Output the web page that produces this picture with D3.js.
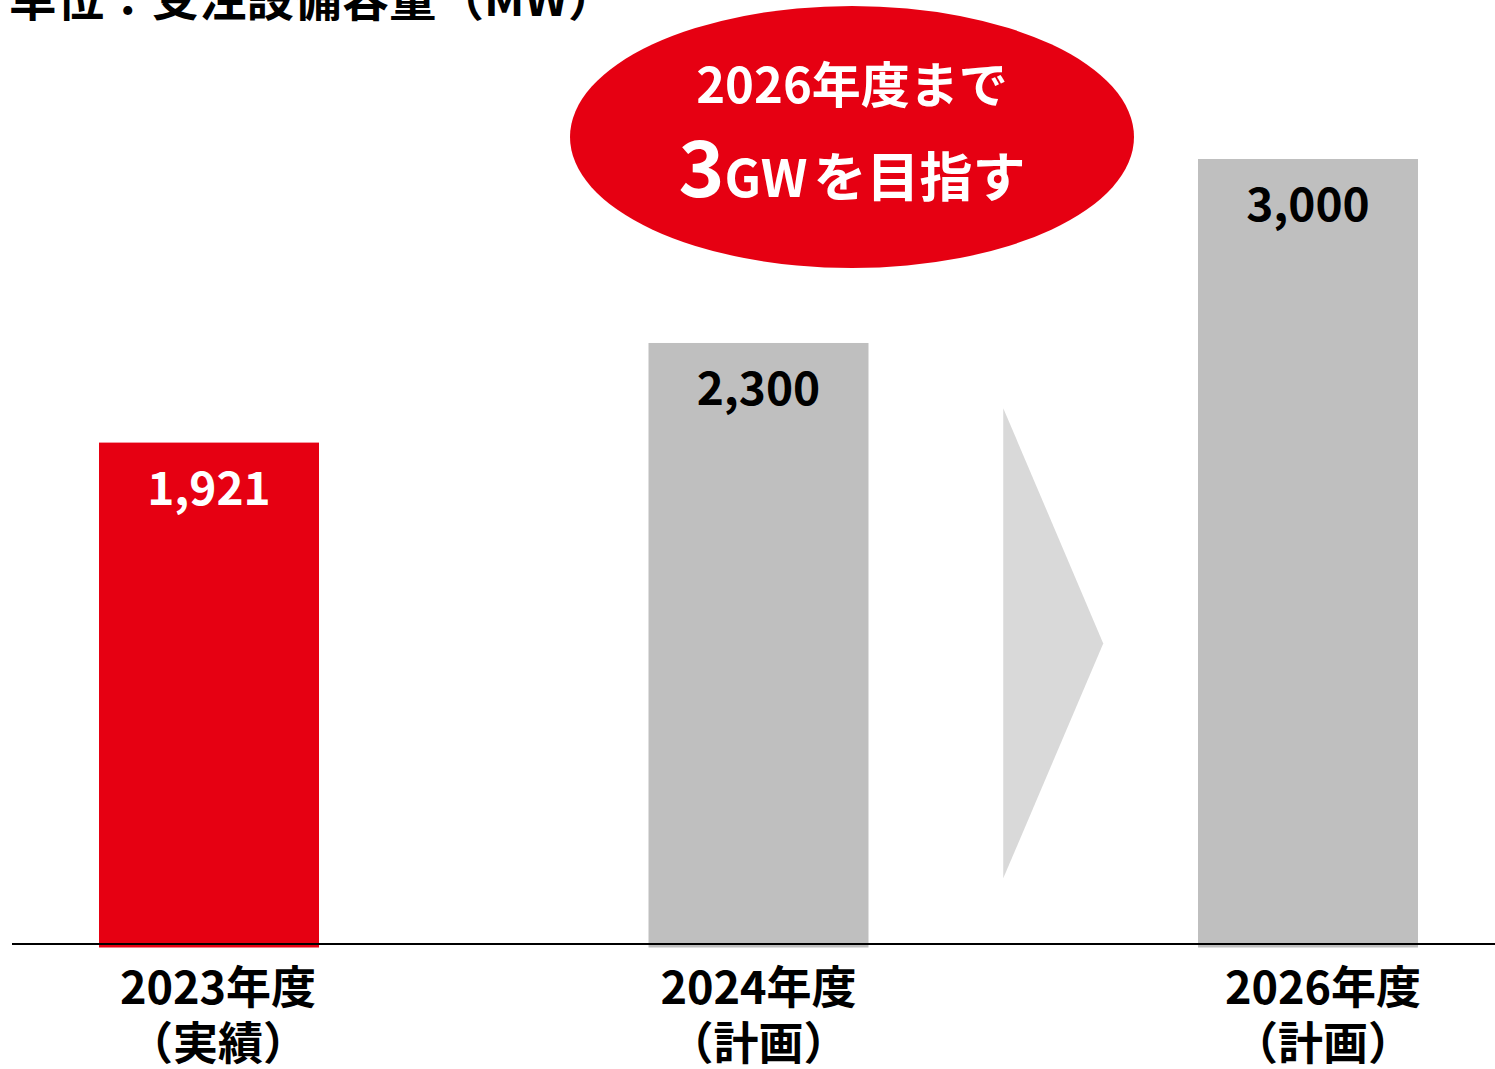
<!DOCTYPE html>
<html>
<head>
<meta charset="utf-8">
<script src="https://cdn.jsdelivr.net/npm/d3@7"></script>
<style>
  html, body { margin: 0; padding: 0; background: #fff; }
  svg { display: block; font-family: "Noto Sans CJK JP", "Noto Sans", sans-serif; font-weight: 700; }
</style>
</head>
<body>
<div class="chart"></div>
<script>
//Data
var years = ["2023年度", "2024年度", "2026年度"];
var notes = ["（実績）", "（計画）", "（計画）"];
var values = [1921, 2300, 3000];
var kinds = ["actual", "plan", "plan"];

//Width and height
var w = 1495;
var h = 1069;
var barW = 220;

var svg = d3.select(".chart")
    .append("svg")
    .attr("width", w)
    .attr("height", h);

//Scales
var xScale = d3.scalePoint()
    .domain(years)
    .range([209, 1308]);

var yScale = d3.scaleLinear()
    .domain([0, 3000])
    .range([947.5, 159]);

var color = d3.scaleOrdinal()
    .domain(["actual", "plan"])
    .range(["#e60012", "#bfbfbf"]);

var fmt = d3.format(",");

//Title (cut at the top edge)
svg.append("text")
    .attr("x", 9)
    .attr("y", 16)
    .attr("font-size", 47.5)
    .attr("fill", "#000")
    .text("単位：受注設備容量（MW）");

//Bars
svg.selectAll(".bar")
    .data(values)
    .enter()
    .append("rect")
    .attr("class", "bar")
    .attr("x", (d, i) => xScale(years[i]) - barW / 2)
    .attr("y", d => yScale(d))
    .attr("width", barW)
    .attr("height", d => yScale(0) - yScale(d))
    .attr("fill", (d, i) => color(kinds[i]));

//Value labels
svg.selectAll(".val")
    .data(values)
    .enter()
    .append("text")
    .attr("class", "val")
    .attr("x", (d, i) => xScale(years[i]))
    .attr("y", d => yScale(d) + 62)
    .attr("text-anchor", "middle")
    .attr("font-size", 46)
    .attr("fill", (d, i) => kinds[i] === "actual" ? "#fff" : "#000")
    .text(d => fmt(d));

//Baseline
svg.append("line")
    .attr("x1", 12)
    .attr("x2", w)
    .attr("y1", 944)
    .attr("y2", 944)
    .attr("stroke", "#000")
    .attr("stroke-width", 2);

//Category labels
var labelShift = [9, 0, 15];
var cat = svg.selectAll(".cat")
    .data(years)
    .enter()
    .append("text")
    .attr("class", "cat")
    .attr("text-anchor", "middle")
    .attr("font-size", 45)
    .attr("fill", "#000");
cat.append("tspan")
    .attr("x", (d, i) => xScale(d) + labelShift[i])
    .attr("y", 1004)
    .text(d => d);
cat.append("tspan")
    .attr("x", (d, i) => xScale(d) + labelShift[i])
    .attr("y", 1060)
    .text((d, i) => notes[i]);

//Arrow between 2024 and 2026
var ax = (xScale(years[1]) + xScale(years[2])) / 2;
svg.append("path")
    .attr("d", "M" + (ax - 30) + "," + yScale(2052) +
        "L" + (ax + 70) + "," + yScale(1157) +
        "L" + (ax - 30) + "," + yScale(263) + "Z")
    .attr("fill", "#d9d9d9");

//Callout
svg.append("ellipse")
    .attr("cx", 852)
    .attr("cy", 137)
    .attr("rx", 282)
    .attr("ry", 131)
    .attr("fill", "#e60012");

svg.append("text")
    .attr("x", 852)
    .attr("y", 103)
    .attr("text-anchor", "middle")
    .attr("font-size", 49)
    .attr("fill", "#fff")
    .text("2026年度まで");

var goal = svg.append("text")
    .attr("x", 852)
    .attr("y", 197)
    .attr("text-anchor", "middle")
    .attr("fill", "#fff");
goal.append("tspan").attr("font-size", 78).text("3");
goal.append("tspan").attr("font-size", 51).text("GW");
goal.append("tspan").attr("font-size", 53).attr("dx", 6).text("を目指す");
</script>
</body>
</html>
